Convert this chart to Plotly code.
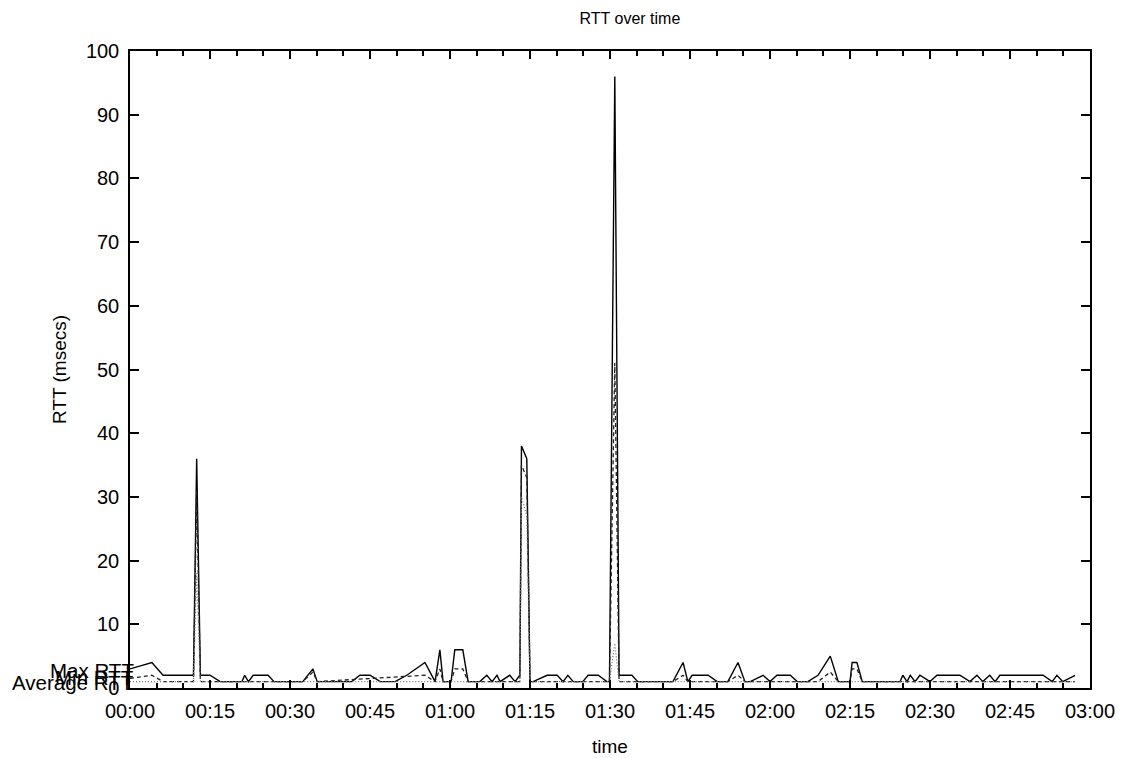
import datetime as dt
import plotly.graph_objects as go

# Sample vertices: minutes after 00:00 and RTT in milliseconds
max_minutes = [0, 4.1, 6.2, 11.9, 12.5, 13.2, 15.0, 16.9, 21.0, 21.5, 22.2, 23.1, 25.9, 27.0,
               32.4, 34.3, 35.1, 41.6, 43.1, 45.0, 46.9, 49.7, 51.9, 55.3, 57.2, 58.1, 58.7,
               60.2, 60.9, 62.4, 63.4, 65.6, 66.9, 67.9, 68.8, 69.4, 71.2, 72.2, 73.1, 73.4,
               74.4, 75.0, 75.6, 78.2, 80.1, 81.2, 82.1, 83.1, 84.9, 85.9, 87.8, 89.4, 89.9,
               90.9, 91.7, 91.9, 94.1, 95.2, 101.8, 103.7, 104.6, 105.4, 108.4, 110.1, 112.1,
               114.0, 115.3, 116.3, 118.7, 120.0, 121.3, 123.8, 125.1, 127.1, 129.0, 131.3,
               132.8, 135.0, 135.4, 136.3, 137.3, 144.4, 144.9, 145.7, 146.3, 147.2, 148.1,
               150.0, 151.3, 155.6, 157.5, 158.8, 159.9, 161.2, 162.2, 163.1, 171.2, 172.9,
               173.8, 174.9, 177.2]
max_rtt = [3, 4, 2, 2, 36, 2, 2, 1, 1, 2, 1, 2, 2, 1,
           1, 3, 1, 1, 2, 2, 1, 1, 2, 4, 1, 6, 1,
           1, 6, 6, 1, 1, 2, 1, 2, 1, 2, 1, 2, 38,
           36, 1, 1, 2, 2, 1, 2, 1, 1, 2, 2, 1, 1,
           96, 2, 2, 2, 1, 1, 4, 1, 2, 2, 1, 1,
           4, 1, 1, 2, 1, 2, 2, 1, 1, 2, 5,
           1, 1, 4, 4, 1, 1, 2, 1, 2, 1, 2,
           1, 2, 2, 1, 2, 1, 2, 1, 2, 2, 1,
           2, 1, 2]

avg_minutes = [0, 4.1, 6.2, 11.9, 12.5, 13.2, 32.4, 34.3, 35.1, 55.3, 57.2, 58.1, 58.7, 60.2,
               60.9, 62.4, 63.4, 73.1, 73.4, 74.4, 75.0, 89.9, 90.9, 91.7, 101.8, 103.7, 104.6,
               112.1, 114.0, 115.3, 129.0, 131.3, 132.8, 135.0, 135.4, 136.3, 137.3, 177.2]
avg_rtt = [1.5, 2, 1, 1, 31, 1, 1, 2.5, 1, 2, 1, 3, 1, 1,
           3, 3, 1, 1, 35, 33, 1, 1, 51, 1, 1, 2, 1,
           1, 2, 1, 1, 2.5, 1, 1, 3, 3, 1, 1]

min_minutes = [0, 11.9, 12.5, 13.2, 73.1, 73.4, 74.4, 75.0, 89.9, 90.9, 91.7, 177.2]
min_rtt = [1, 1, 18, 1, 1, 30, 27, 1, 1, 7, 1, 1]

x_ticks = ["00:00", "00:15", "00:30", "00:45", "01:00", "01:15", "01:30",
           "01:45", "02:00", "02:15", "02:30", "02:45", "03:00"]

base = dt.datetime(2000, 1, 1)


def to_time(minutes):
    return [base + dt.timedelta(minutes=m) for m in minutes]


FONT = "Liberation Sans, Arial, sans-serif"

fig = go.Figure()
fig.add_trace(go.Scatter(x=to_time(max_minutes), y=max_rtt, mode="lines", name="Max RTT",
                         line=dict(color="#000000", width=1.4)))
fig.add_trace(go.Scatter(x=to_time(avg_minutes), y=avg_rtt, mode="lines", name="Average RTT",
                         line=dict(color="#222222", width=1.3, dash="4px,3px")))
fig.add_trace(go.Scatter(x=to_time(min_minutes), y=min_rtt, mode="lines", name="Min RTT",
                         line=dict(color="#777777", width=1.3, dash="1px,2px")))

# Series names written at the left edge, beside each line's starting level
for text, yv in [("Max RTT", 2.8), ("Min RTT", 1.7), ("Average RTT", 0.8)]:
    fig.add_annotation(x=base, y=yv, xref="x", yref="y", text=text, showarrow=False,
                       xanchor="right", yanchor="middle", xshift=6,
                       font=dict(family=FONT, size=20.5, color="#000000"))

tick_vals = [base + dt.timedelta(minutes=15 * i) for i in range(len(x_ticks))]

fig.update_layout(
    width=1135, height=758,
    paper_bgcolor="white", plot_bgcolor="white",
    margin=dict(l=130, r=45, t=51, b=70),
    showlegend=False,
    font=dict(family=FONT, size=20, color="#000000"),
    title=dict(text="RTT over time", x=0.555, xanchor="center", y=0.976, yanchor="middle",
               font=dict(family=FONT, size=16)),
)
fig.update_xaxes(
    automargin=False,
    range=[base, base + dt.timedelta(minutes=180)],
    tickvals=tick_vals, ticktext=x_ticks, ticklabelstandoff=4,
    ticks="inside", ticklen=8, tickcolor="#000", tickwidth=1.5,
    minor=dict(dtick=5 * 60 * 1000, ticks="inside", ticklen=5, tickcolor="#000", tickwidth=1.5),
    showline=True, linecolor="#000", linewidth=1.5, mirror="allticks",
    showgrid=False, zeroline=False,
    title=dict(text="time", font=dict(family=FONT, size=19), standoff=19),
)
fig.update_yaxes(
    automargin=False,
    range=[0, 100], dtick=10, tick0=0, ticklabelstandoff=5,
    ticks="inside", ticklen=9, tickcolor="#000", tickwidth=1.5,
    showline=True, linecolor="#000", linewidth=1.5, mirror="allticks",
    showgrid=False, zeroline=False,
    title=dict(text="RTT (msecs)", font=dict(family=FONT, size=19), standoff=14),
)

fig.write_html("out.html")
